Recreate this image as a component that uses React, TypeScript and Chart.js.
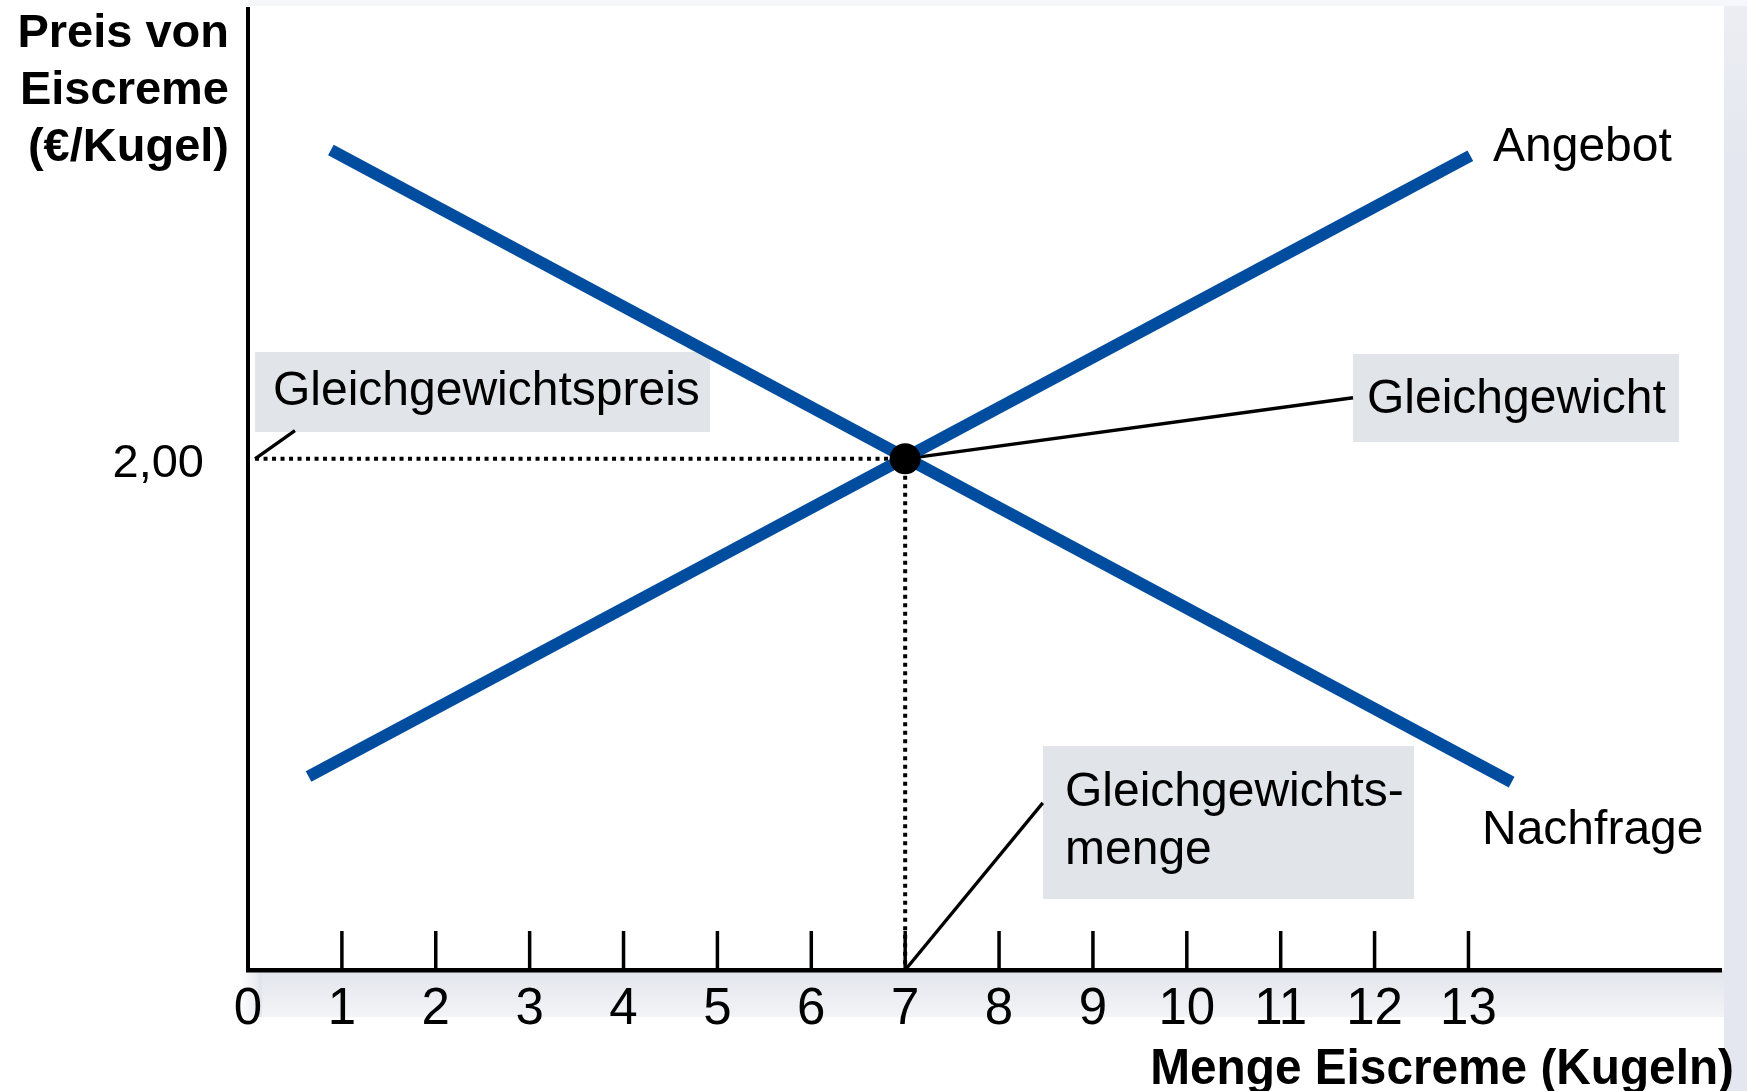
import React, { useEffect, useRef } from "react";
import { Chart, registerables } from "chart.js";

Chart.register(...registerables);

// ---- data ----
const quantityTicks = [0, 1, 2, 3, 4, 5, 6, 7, 8, 9, 10, 11, 12, 13];
const priceTickValues = [2];
const priceTickLabels = ["2,00"];
const supplyQ = [0.645, 13.02];
const supplyP = [0.757, 3.186];
const demandQ = [0.883, 13.46];
const demandP = [3.208, 0.735];
const eqQ = [7];
const eqP = [2.0];
const X_MAX = 15.69;
const Y_MAX = 3.76;

const BLUE = "#004c9f";
const BOX = "#e1e4e9";
const SANS = "'Liberation Sans', Arial, sans-serif";

const pts = (xs: number[], ys: number[]) => xs.map((x, i) => ({ x, y: ys[i] }));

const decorPlugin = {
  id: "decor",
  beforeDraw(chart: any) {
    const { ctx, width, height } = chart;
    const ca = chart.chartArea;
    ctx.save();
    ctx.fillStyle = "#ffffff";
    ctx.fillRect(0, 0, width, height);
    // faint top strip
    ctx.fillStyle = "#f5f7fa";
    ctx.fillRect(ca.left, 0, width - ca.left, 6);
    // right grey strip
    const rg = ctx.createLinearGradient(0, 0, 0, height);
    rg.addColorStop(0, "#eceef3");
    rg.addColorStop(0.15, "#e4e7ef");
    rg.addColorStop(1, "#e4e7ef");
    ctx.fillStyle = rg;
    ctx.fillRect(ca.right + 3, 6, width - ca.right - 3, height - 6);
    // strip under x axis
    const g = ctx.createLinearGradient(0, ca.bottom, 0, ca.bottom + 47);
    g.addColorStop(0, "#e2e5ec");
    g.addColorStop(1, "#f3f4f7");
    ctx.fillStyle = g;
    ctx.fillRect(ca.left + 10, ca.bottom, ca.right - ca.left - 7, 47);
    const gl = ctx.createLinearGradient(ca.left - 8, 0, ca.left + 14, 0);
    gl.addColorStop(0, "rgba(226,229,236,0)");
    gl.addColorStop(1, "rgba(226,229,236,1)");
    ctx.fillStyle = gl;
    ctx.fillRect(ca.left - 8, ca.bottom, 22, 47);
    ctx.restore();
  },
  beforeDatasetsDraw(chart: any) {
    const { ctx } = chart;
    ctx.save();
    // annotation boxes
    ctx.fillStyle = BOX;
    ctx.fillRect(255, 352, 455, 80);
    ctx.fillRect(1353, 354, 326, 88);
    ctx.fillRect(1043, 746, 371, 153);
    ctx.fillStyle = "#000";
    ctx.textBaseline = "middle";
    ctx.textAlign = "left";
    ctx.font = `48px ${SANS}`;
    ctx.fillText("Gleichgewichtspreis", 273, 392);
    ctx.fillText("Gleichgewicht", 1367, 400);
    ctx.fillText("Gleichgewichts-", 1065, 793);
    ctx.fillText("menge", 1065, 851);
    ctx.fillText("Angebot", 1493, 148);
    ctx.fillText("Nachfrage", 1482, 831);
    ctx.restore();
  },
  afterDraw(chart: any) {
    const { ctx } = chart;
    const xs = chart.scales.x;
    const ca = chart.chartArea;
    ctx.save();
    // inward tick marks
    ctx.strokeStyle = "#000";
    ctx.lineWidth = 3.5;
    quantityTicks.forEach((v) => {
      if (v === 0) return;
      const px = xs.getPixelForValue(v);
      ctx.beginPath();
      ctx.moveTo(px, ca.bottom);
      ctx.lineTo(px, ca.bottom - 39);
      ctx.stroke();
    });
    // y-axis title
    ctx.fillStyle = "#000";
    ctx.textAlign = "right";
    ctx.textBaseline = "alphabetic";
    ctx.font = `bold 47px ${SANS}`;
    ctx.fillText("Preis von", 229, 47);
    ctx.fillText("Eiscreme", 229, 104);
    ctx.fillText("(€/Kugel)", 229, 161);
    // x-axis title (slightly condensed)
    ctx.font = `bold 50px ${SANS}`;
    ctx.translate(1734, 1084);
    ctx.scale(0.955, 1);
    ctx.fillText("Menge Eiscreme (Kugeln)", 0, 0);
    ctx.restore();
  },
};

export default function App() {
  const ref = useRef<HTMLCanvasElement | null>(null);
  useEffect(() => {
    if (!ref.current) return;
    const thin = (data: any[], order: number, dash?: number[]) => ({
      data,
      showLine: true,
      borderColor: "#000",
      borderWidth: dash ? 4 : 3.3,
      borderDash: dash || [],
      borderCapStyle: "butt",
      pointRadius: 0,
      order,
    });
    const chart = new Chart(ref.current, {
      type: "scatter",
      data: {
        datasets: [
          {
            label: "Gleichgewicht",
            data: pts(eqQ, eqP),
            pointRadius: 15.5,
            pointBackgroundColor: "#000",
            pointBorderWidth: 0,
            showLine: false,
            order: 0,
          },
          {
            label: "Angebot",
            data: pts(supplyQ, supplyP),
            showLine: true,
            borderColor: BLUE,
            borderWidth: 12,
            borderCapStyle: "butt",
            pointRadius: 0,
            order: 1,
          },
          {
            label: "Nachfrage",
            data: pts(demandQ, demandP),
            showLine: true,
            borderColor: BLUE,
            borderWidth: 12,
            borderCapStyle: "butt",
            pointRadius: 0,
            order: 1,
          },
          {
            label: "leader-gg",
            ...thin(
              [
                { x: eqQ[0], y: eqP[0] },
                { x: 11.77, y: 2.239 },
              ],
              2
            ),
          },
          {
            label: "leader-menge",
            ...thin(
              [
                { x: eqQ[0], y: 0 },
                { x: 8.466, y: 0.654 },
              ],
              2
            ),
          },
          {
            label: "leader-preis",
            ...thin(
              [
                { x: 0.075, y: eqP[0] },
                { x: 0.5, y: 2.11 },
              ],
              2
            ),
          },
          {
            label: "price-guide",
            ...thin(
              [
                { x: 0.075, y: eqP[0] },
                { x: eqQ[0], y: eqP[0] },
              ],
              3,
              [4, 4.5]
            ),
          },
          {
            label: "qty-guide",
            ...thin(
              [
                { x: eqQ[0], y: eqP[0] },
                { x: eqQ[0], y: 0 },
              ],
              3,
              [4, 4.5]
            ),
          },
        ],
      },
      options: {
        animation: false,
        responsive: false,
        devicePixelRatio: 1,
        layout: { autoPadding: false, padding: { left: 0, top: 9, right: 26, bottom: 0 } },
        plugins: { legend: { display: false }, tooltip: { enabled: false } },
        scales: {
          x: {
            type: "linear",
            min: 0,
            max: X_MAX,
            grid: { display: false, drawTicks: false },
            border: { display: true, color: "#000", width: 4.5 },
            afterFit: (s: any) => {
              s.height = 121;
              s.paddingLeft = 0;
              s.paddingRight = 0;
            },
            ticks: {
              stepSize: 1,
              autoSkip: false,
              maxRotation: 0,
              padding: 9,
              color: "#000",
              font: { family: SANS, size: 51 },
              callback: (v: any) =>
                quantityTicks.includes(Number(v)) ? String(v) : "",
            },
          },
          y: {
            type: "linear",
            min: 0,
            max: Y_MAX,
            grid: { display: false, drawTicks: false },
            border: { display: true, color: "#000", width: 4 },
            afterFit: (s: any) => {
              s.width = 248;
              s.paddingTop = 0;
              s.paddingBottom = 0;
            },
            afterBuildTicks: (s: any) => {
              s.ticks = priceTickValues.map((v) => ({ value: v }));
            },
            ticks: {
              padding: 44,
              labelOffset: 5,
              color: "#000",
              font: { family: SANS, size: 47 },
              callback: (v: any) => {
                const i = priceTickValues.indexOf(Number(v));
                return i >= 0 ? priceTickLabels[i] : "";
              },
            },
          },
        },
      },
      plugins: [decorPlugin],
    } as any);
    return () => chart.destroy();
  }, []);
  return (
    <div style={{ position: "fixed", left: 0, top: 0, width: 1747, height: 1091 }}>
      <canvas ref={ref} width={1747} height={1091} style={{ display: "block" }} />
    </div>
  );
}
